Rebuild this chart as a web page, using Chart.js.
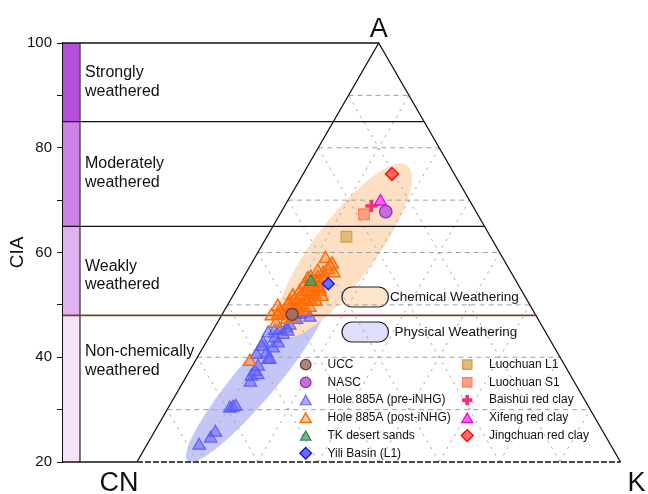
<!DOCTYPE html>
<html><head><meta charset="utf-8">
<script src="https://cdn.jsdelivr.net/npm/chart.js@4.4.0/dist/chart.umd.min.js"></script>
<style>html,body{margin:0;padding:0;background:#fff}#wrap{width:648px;height:494px;position:relative}</style>
</head><body><div id="wrap"><canvas id="c"></canvas></div>
<script>
const FONT = "'Liberation Sans', Arial, Helvetica, sans-serif";
// Plot units: x runs CN (0) -> K (100) along the base, y is CIA (20..100); apex A at (50,100)
const ciaTicks = [20, 30, 40, 50, 60, 70, 80, 90, 100];
const bandLimits = [100, 85, 65, 48, 20];
const bandNames = [['Strongly', 'weathered'], ['Moderately', 'weathered'], ['Weakly', 'weathered'], ['Non-chemically', 'weathered']];
const bandLabelCIA = [94.3, 76.9, 57.4, 41.0];
const gridLevels = [30, 40, 50, 60, 70, 80, 90];
const gridSteps = [1, 2, 3, 4, 5, 6, 7];

// Samples: [x, CIA]
const ucc = [[32.1, 48.2]];
const nasc = [[51.45, 67.8]];
const tkDesert = [[35.95, 54.4]];
const yili = [[39.57, 54.04]];
const luochuanL1 = [[43.33, 63.02]];
const luochuanS1 = [[46.96, 67.29]];
const baishui = [[48.49, 68.88]];
const xifeng = [[50.35, 69.74]];
const jingchuan = [[52.75, 74.99]];
const preINHG = [
  [12.87, 23.15], [15.23, 24.49], [16.22, 25.63], [19.21, 30.21], [19.83, 30.41], [20.45, 30.6],
  [23.45, 35.18], [23.66, 36.32], [25.0, 36.61], [24.38, 37.28], [25.06, 38.23], [27.13, 39.51],
  [24.73, 40.47], [26.8, 40.77], [27.48, 39.57], [28.16, 41.73], [29.19, 42.68], [26.1, 42.68],
  [28.51, 43.64], [27.13, 44.59], [30.23, 44.29], [29.55, 45.24], [30.93, 45.55], [31.61, 46.06],
  [28.51, 45.05], [33.0, 47.15], [33.68, 48.1], [34.71, 48.41], [32.64, 48.22], [35.74, 47.59],
  [31.2, 44.92], [25.83, 42.05]
];
const postINHG = [
  [38.99, 58.8], [40.35, 57.77], [39.52, 56.7], [40.7, 56.05], [38.49, 56.05], [37.4, 55.23],
  [36.36, 54.08], [36.98, 52.94], [35.33, 53.13], [34.5, 52.17], [35.74, 51.79], [33.68, 51.22],
  [34.92, 50.64], [32.85, 50.26], [34.09, 49.69], [32.02, 49.5], [33.26, 48.93], [31.2, 48.74],
  [30.37, 47.97], [36.16, 50.64], [37.81, 52.55], [33.68, 52.55], [31.61, 50.64], [36.98, 54.46],
  [34.71, 53.89], [27.83, 47.88], [28.72, 46.44], [23.35, 39.19], [29.55, 48.93], [38.64, 54.37],
  [32.23, 51.69], [35.33, 54.94], [29.13, 49.69],
  [30.99, 47.21], [32.23, 47.59], [31.82, 48.54], [33.06, 49.31], [34.3, 50.07], [35.54, 51.03],
  [36.78, 51.98], [37.81, 53.13], [29.75, 48.35], [31.4, 50.07], [32.64, 51.03], [33.88, 51.79],
  [35.12, 52.55], [36.36, 53.51], [37.6, 54.27], [38.64, 55.04], [29.13, 47.97], [34.5, 48.74],
  [35.74, 49.5], [36.98, 50.64], [38.22, 51.6], [37.4, 56.37], [35.95, 55.23], [39.88, 57.42]
];
// Field ellipses: tip points (plot units) and minor/major ratio
const chemTips = [[29.6, 44.0], [55.9, 76.6]];
const physTips = [[10.5, 20.2], [39.0, 51.5]];
const chemRatio = 0.29, physRatio = 0.19;

const pts = a => a.map(p => ({x: p[0], y: p[1]}));
const datasets = [];
function addLine(data, color, width, dash, order) {
  datasets.push({data: data.map(p => ({x: p[0], y: p[1]})), showLine: true, pointRadius: 0, pointHoverRadius: 0,
    borderColor: color, borderWidth: width, borderDash: dash, fill: false, order: order, clip: false, tension: 0});
}
// ternary grid
gridLevels.forEach(v => { const d = (v - 20) / 80 * 50; addLine([[d, v], [100 - d, v]], '#a0a0a0', 1, [5, 4], 100); });
gridSteps.forEach(k => {
  addLine([[k * 12.5, 20], [50 + 6.25 * k, 100 - 10 * k]], '#a8a8a8', 1, [2.5, 5], 100);
  addLine([[k * 12.5, 20], [6.25 * k, 20 + 10 * k]], '#a8a8a8', 1, [2.5, 5], 100);
});
// frame
const xLeft = -15.29;
addLine([[0, 20], [50, 100], [100, 20]], '#111', 1.3, [], 90);
addLine([[0, 20], [100, 20]], '#111', 1.3, [6, 2], 90);
addLine([[xLeft, 20], [0, 20]], '#111', 1.3, [], 90);
[100, 85, 65].forEach(v => { addLine([[xLeft, v], [100 - (v - 20) / 80 * 50, v]], '#111', 1.3, [], 90); });
addLine([[xLeft, 48], [100 - 28 / 80 * 50, 48]], '#7a3c34', 1.6, [], 89);

function addSeries(label, data, style, r, bg, bd, bw, order, lr) {
  datasets.push({label, data: pts(data), pointStyle: style, pointRadius: r, pointHoverRadius: r,
    backgroundColor: bg, borderColor: bd, borderWidth: bw, order, clip: false, legendR: lr});
}
addSeries('Hole 885A (pre-iNHG)', preINHG, 'triangle', 7.3, 'rgba(105,105,255,0.58)', 'rgba(85,85,245,0.85)', 1.2, 50, 6.3);
addSeries('Hole 885A (post-iNHG)', postINHG, 'triangle', 7.3, 'rgba(255,130,50,0.42)', '#ff6a00', 1.5, 40, 6.3);
addSeries('UCC', ucc, 'circle', 6, 'rgba(150,110,108,0.85)', '#6e3a3a', 1.3, 30, 5.3);
addSeries('NASC', nasc, 'circle', 6.2, '#c470d8', '#9a2cc4', 1.3, 30, 5.3);
addSeries('TK desert sands', tkDesert, 'triangle', 7, 'rgba(90,150,100,0.75)', '#2f8a55', 1.3, 30, 6);
addSeries('Yili Basin (L1)', yili, 'rectRot', 6, '#6b6bff', '#1010ee', 1.3, 30, 5.8);
addSeries('Luochuan L1', luochuanL1, 'rect', 7.5, '#e3ba78', '#d2a050', 1.3, 30, 6.6);
addSeries('Luochuan S1', luochuanS1, 'rect', 7.5, '#ffa080', '#ff8060', 1.3, 30, 6.6);
addSeries('Baishui red clay', baishui, 'cross', 6, '#ff3c7c', '#f5306f', 3.6, 29, 5.2);
addSeries('Xifeng red clay', xifeng, 'triangle', 7, '#ff66ff', '#ea00ea', 1.3, 28, 6.3);
addSeries('Jingchuan red clay', jingchuan, 'rectRot', 6.5, '#ff6868', '#ff0000', 1.3, 27, 6);

const legendCol1 = ['UCC', 'NASC', 'Hole 885A (pre-iNHG)', 'Hole 885A (post-iNHG)', 'TK desert sands', 'Yili Basin (L1)'];
const legendCol2 = ['Luochuan L1', 'Luochuan S1', 'Baishui red clay', 'Xifeng red clay', 'Jingchuan red clay'];

function ellipse(ctx, xs, ys, tips, ratio, color) {
  const x1 = xs.getPixelForValue(tips[0][0]), y1 = ys.getPixelForValue(tips[0][1]);
  const x2 = xs.getPixelForValue(tips[1][0]), y2 = ys.getPixelForValue(tips[1][1]);
  const a = Math.hypot(x2 - x1, y2 - y1) / 2;
  ctx.save(); ctx.fillStyle = color; ctx.beginPath();
  ctx.ellipse((x1 + x2) / 2, (y1 + y2) / 2, a, a * ratio, Math.atan2(y2 - y1, x2 - x1), 0, Math.PI * 2);
  ctx.fill(); ctx.restore();
}
function pill(ctx, x, y, w, h, fill) {
  const r = h / 2;
  ctx.beginPath(); ctx.moveTo(x + r, y); ctx.lineTo(x + w - r, y); ctx.arc(x + w - r, y + r, r, -Math.PI / 2, Math.PI / 2);
  ctx.lineTo(x + r, y + h); ctx.arc(x + r, y + r, r, Math.PI / 2, Math.PI * 1.5); ctx.closePath();
  ctx.fillStyle = fill; ctx.fill(); ctx.lineWidth = 1.2; ctx.strokeStyle = '#222'; ctx.stroke();
}

const decor = {
  id: 'decor',
  beforeDatasetsDraw(chart) {
    const ctx = chart.ctx, xs = chart.scales.x, ys = chart.scales.y;
    const bx0 = xs.getPixelForValue(xLeft), bx1 = xs.getPixelForValue(-11.78);
    const colors = ['#b44fdb', '#cd82e6', '#dfb3f0', '#f4e3f9'];
    for (let i = 0; i < 4; i++) {
      const t = ys.getPixelForValue(bandLimits[i]), b = ys.getPixelForValue(bandLimits[i + 1]);
      ctx.fillStyle = colors[i]; ctx.fillRect(bx0, t, bx1 - bx0, b - t);
    }
    ctx.save(); ctx.strokeStyle = '#555'; ctx.lineWidth = 1.6; ctx.beginPath();
    ctx.moveTo(bx1, ys.getPixelForValue(100)); ctx.lineTo(bx1, ys.getPixelForValue(20)); ctx.stroke(); ctx.restore();
    ellipse(ctx, xs, ys, physTips, physRatio, '#c4c6f6');
    ellipse(ctx, xs, ys, chemTips, chemRatio, '#fde0c3');
    // field key
    const px = xs.getPixelForValue(42.4);
    const t1 = ys.getPixelForValue(53.41), t2 = ys.getPixelForValue(46.73);
    pill(ctx, px, t1, 46.5, 20, 'rgba(253,226,200,0.9)');
    pill(ctx, px, t2, 46.5, 20, 'rgba(218,219,250,0.9)');
    ctx.fillStyle = '#111'; ctx.font = '13.5px ' + FONT; ctx.textBaseline = 'middle'; ctx.textAlign = 'left';
    ctx.fillText('Chemical Weathering', px + 48, t1 + 10.5);
    ctx.fillText('Physical Weathering', px + 52.5, t2 + 10.5);
  },
  afterDatasetsDraw(chart) {
    const ctx = chart.ctx, xs = chart.scales.x, ys = chart.scales.y;
    ctx.save();
    ctx.fillStyle = '#111'; ctx.textBaseline = 'middle'; ctx.textAlign = 'left';
    ctx.font = '16px ' + FONT;
    const lx = xs.getPixelForValue(-10.75);
    bandNames.forEach((n, i) => {
      const y = ys.getPixelForValue(bandLabelCIA[i]);
      ctx.fillText(n[0], lx, y); ctx.fillText(n[1], lx, y + 18.8);
    });
    ctx.font = '27px ' + FONT; ctx.textBaseline = 'alphabetic'; ctx.textAlign = 'center';
    ctx.fillText('A', xs.getPixelForValue(50), ys.getPixelForValue(100) - 6);
    ctx.fillText('CN', xs.getPixelForValue(0) - 18, ys.getPixelForValue(20) + 29);
    ctx.fillText('K', xs.getPixelForValue(100) + 16, ys.getPixelForValue(20) + 29);
    // legend
    ctx.font = '12px ' + FONT; ctx.textAlign = 'left'; ctx.textBaseline = 'middle';
    const find = l => chart.data.datasets.find(d => d.label === l);
    const drawCol = (list, mx, tx) => list.forEach((l, i) => {
      const d = find(l), y = ys.getPixelForValue(38.6) + i * 17.75;
      ctx.save(); ctx.fillStyle = d.backgroundColor; ctx.strokeStyle = d.borderColor; ctx.lineWidth = d.borderWidth;
      Chart.helpers.drawPoint(ctx, {pointStyle: d.pointStyle, radius: d.legendR, rotation: 0, borderWidth: d.borderWidth}, mx, y + (d.pointStyle === 'triangle' ? 1.5 : 0));
      ctx.restore();
      ctx.fillStyle = '#111'; ctx.fillText(l, tx, y);
    });
    drawCol(legendCol1, xs.getPixelForValue(34.9), xs.getPixelForValue(39.4));
    drawCol(legendCol2, xs.getPixelForValue(68.3), xs.getPixelForValue(72.8));
    ctx.restore();
  }
};

new Chart(document.getElementById('c'), {
  type: 'scatter',
  data: {datasets},
  options: {
    responsive: true, maintainAspectRatio: false, animation: false,
    layout: {padding: {top: 43, bottom: 32, left: 0, right: 9}},
    plugins: {legend: {display: false}, tooltip: {enabled: false}},
    scales: {
      x: {type: 'linear', min: xLeft, max: 103.7, display: false},
      y: {
        type: 'linear', min: 20, max: 100,
        afterBuildTicks: s => { s.ticks = ciaTicks.map(v => ({value: v})); },
        afterFit: s => { s.width = 63; },
        ticks: {callback: v => (v % 20 === 0 ? v : ''), font: {size: 15, family: FONT}, color: '#111', padding: 5},
        grid: {drawOnChartArea: false, drawTicks: true, tickLength: 6, color: '#111'},
        border: {display: true, color: '#111', width: 1.2},
        title: {display: true, text: 'CIA', font: {size: 19, family: FONT}, color: '#111', padding: {top: 6, bottom: 0}}
      }
    }
  },
  plugins: [decor]
});
</script></body></html>
